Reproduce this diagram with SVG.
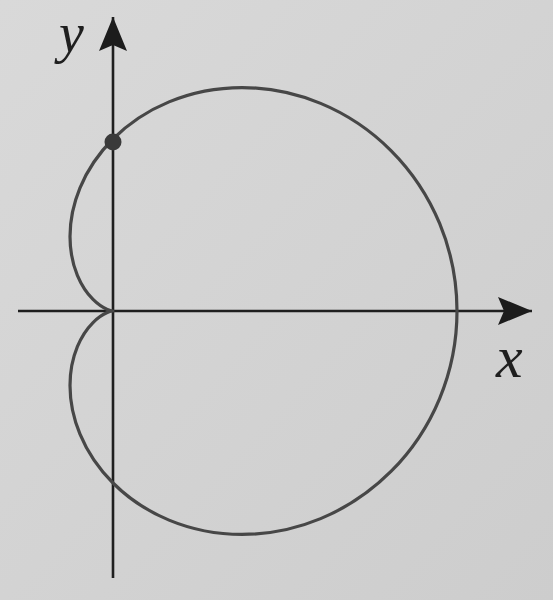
<svg xmlns="http://www.w3.org/2000/svg" width="553" height="600" viewBox="0 0 553 600">
  <defs>
    <linearGradient id="bg" x1="0" y1="0" x2="1" y2="1">
      <stop offset="0" stop-color="#d9d9d9"/>
      <stop offset="0.5" stop-color="#d3d3d3"/>
      <stop offset="1" stop-color="#cdcdcd"/>
    </linearGradient>
    <marker id="arrow" viewBox="0 0 36 28" refX="34" refY="14" markerWidth="36" markerHeight="28" markerUnits="userSpaceOnUse" orient="auto">
      <path d="M34,14 L0,0 L6,14 L0,28 Z" fill="#1c1c1c"/>
    </marker>
    <style>
      .axis { stroke: #1f1f1f; stroke-width: 2.6; fill: none; }
      .curve { stroke: #474747; stroke-width: 3.2; fill: none; stroke-linejoin: round; }
      .lbl { font-family: "Liberation Serif", "DejaVu Serif", serif; font-style: italic; font-size: 60px; fill: #1f1f1f; }
    </style>
  </defs>
  <rect width="553" height="600" fill="url(#bg)"/>
  <g id="connectors">
    <line id="x-axis" class="axis" x1="18" y1="311" x2="532" y2="311" marker-end="url(#arrow)"/>
    <line id="y-axis" class="axis" x1="113" y1="578" x2="113" y2="17" marker-end="url(#arrow)"/>
  </g>
  <g id="cardioid">
    <path class="curve" d="M457,311 C457,280.98 451.01,250.98 439.62,223.48 C428.23,195.98 411.46,171.02 390.96,150.52 C370.46,130.02 346.24,113.99 320.62,103.38 C295,92.77 268,87.57 242,87.57 C216,87.57 191.04,92.75 169.04,101.86 C147.04,110.97 128.01,123.99 113,139 C97.99,154.01 86.99,170.98 80,187.86 C73.01,204.74 70,221.51 70,236.52 C70,251.53 72.98,264.77 77.38,275.38 C81.78,285.99 87.55,293.99 93.04,299.48 C98.53,304.97 103.72,307.98 107.34,309.48 C110.96,310.98 113,311 113,311 C113,311 110.96,311.02 107.34,312.52 C103.72,314.02 98.53,317.03 93.04,322.52 C87.55,328.01 81.78,336.01 77.38,346.62 C72.98,357.23 70,370.47 70,385.48 C70,400.49 73.01,417.26 80,434.14 C86.99,451.02 97.99,467.99 113,483 C128.01,498.01 147.04,511.03 169.04,520.14 C191.04,529.25 216,534.43 242,534.43 C268,534.43 295,529.23 320.62,518.62 C346.24,508.01 370.46,491.98 390.96,471.48 C411.46,450.98 428.23,426.02 439.62,398.52 C451.01,371.02 457,341.02 457,311 Z"/>
  </g>
  <g id="point">
    <circle cx="113" cy="142" r="8.5" fill="#3a3a3a"/>
  </g>
  <g id="label-y">
    <text class="lbl" x="59" y="52" style="font-size:56px">y</text>
  </g>
  <g id="label-x">
    <text class="lbl" x="496" y="377">x</text>
  </g>
</svg>
